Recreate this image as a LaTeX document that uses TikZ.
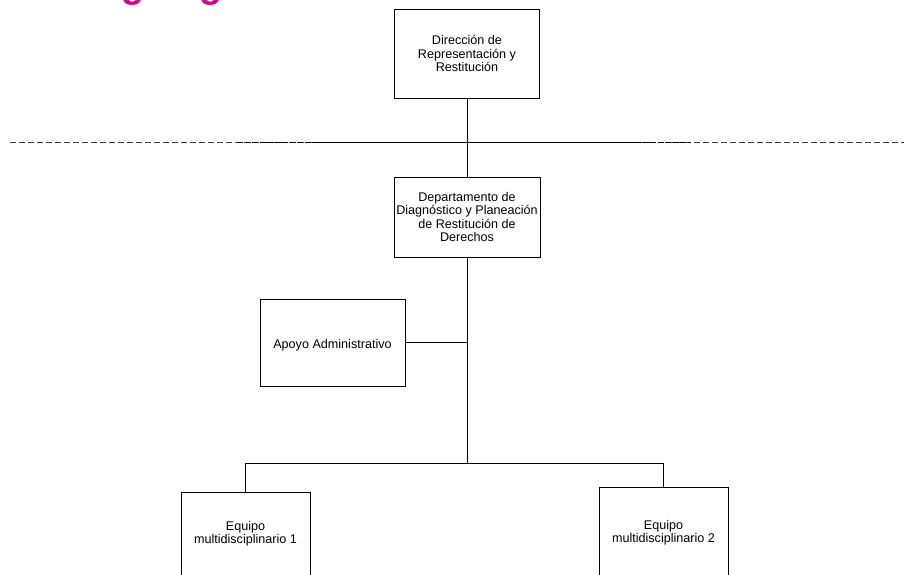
\documentclass[tikz,border=0pt]{standalone}
\usepackage{fontspec}
\setmainfont{Liberation Sans}
\definecolor{titlemagenta}{RGB}{214,0,147}
\begin{document}
\begin{tikzpicture}[x=1pt,y=-1pt,
  orgbox/.style={draw=black, line width=0.8pt, inner sep=0pt, align=center,
                 font=\fontsize{12.6}{13.4}\selectfont,
                 % tall first-line strut: sets the text block slightly low in its box
                 execute at begin node={\rule{0pt}{15.4pt}}},
  link/.style={draw=black, line width=0.8pt}]
  \useasboundingbox (0,0) rectangle (904,575);
  \clip (0,0) rectangle (904,575);

  % heading (only its lower part falls inside the sheet)
  \node[anchor=base west, inner sep=0pt, text=titlemagenta,
        font=\fontsize{37.5}{40}\selectfont\bfseries] (title) at (78,-2) {Organigrama};

  % boxes
  \node[orgbox, minimum width=145pt, minimum height=89pt] (dir) at (467,53.5)
    {Dirección de\\Representación y\\Restitución};
  \node[orgbox, minimum width=146pt, minimum height=80pt] (dept) at (467,217)
    {Departamento de\\Diagnóstico y Planeación\\de Restitución de\\Derechos};
  \node[orgbox, minimum width=145pt, minimum height=87pt] (apoyo) at (332.5,342.5)
    {Apoyo Administrativo};
  \node[orgbox, minimum width=129pt, minimum height=84pt] (eq1) at (245.5,534)
    {Equipo\\multidisciplinario 1};
  \node[orgbox, minimum width=129pt, minimum height=92pt] (eq2) at (663.5,533)
    {Equipo\\multidisciplinario 2};

  % separator line
  \draw[black!75, line width=0.8pt, dash pattern=on 6pt off 3pt] (10,142) -- (904,142);
  \draw[black, line width=0.8pt, dash pattern=on 6pt off 1.5pt] (237,142) -- (317,142);
  \draw[black, line width=0.8pt, dash pattern=on 6pt off 1.5pt] (635,142) -- (691,142);
  \draw[black, line width=0.8pt] (317,142) -- (635,142);

  % connectors
  \coordinate (junc) at (dept.south |- 0,463);
  \draw[link] (dir.south) -- (dept.north);
  \draw[link] (dept.south) -- (junc);
  \draw[link] (apoyo.east) -- (apoyo.east -| dept.south);
  \draw[link] (junc) -| (eq1.north);
  \draw[link] (junc) -| (eq2.north);
\end{tikzpicture}
\end{document}
